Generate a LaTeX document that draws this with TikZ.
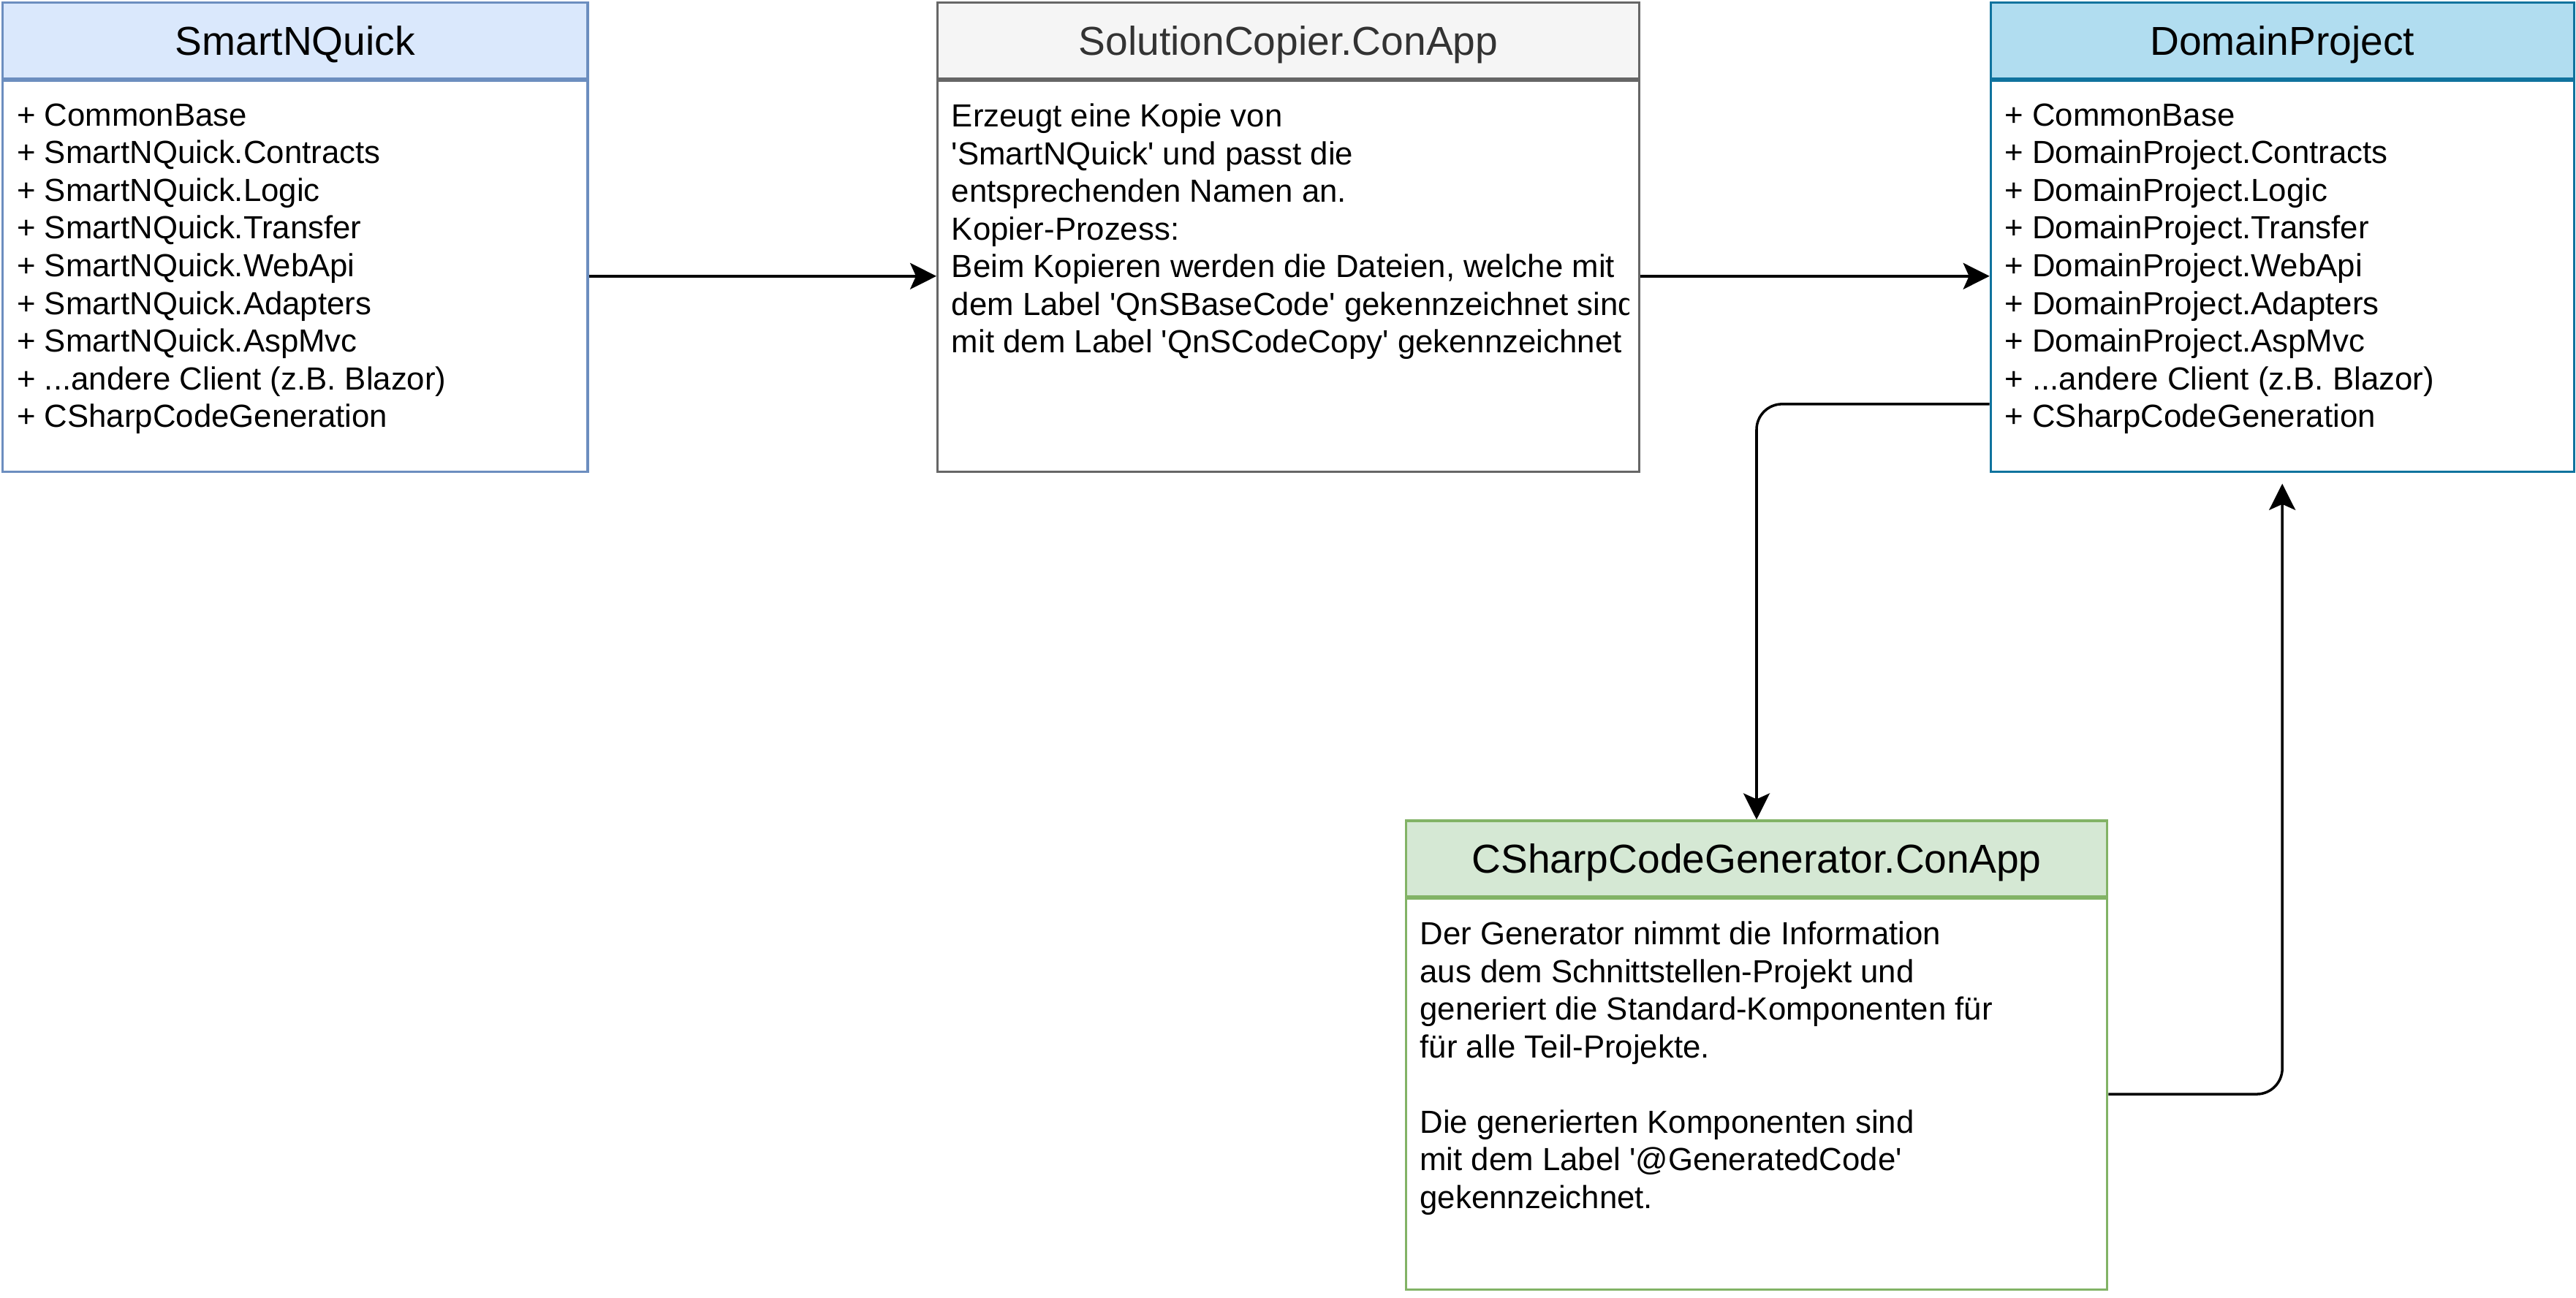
\documentclass[tikz,border=0pt]{standalone}
\usepackage{fontspec}
\setmainfont{Liberation Sans}
\usetikzlibrary{positioning,arrows.meta}

\definecolor{snqfill}{HTML}{DAE8FC}
\definecolor{snqline}{HTML}{6C8EBF}
\definecolor{scfill}{HTML}{F5F5F5}
\definecolor{scline}{HTML}{666666}
\definecolor{sctext}{HTML}{333333}
\definecolor{dpfill}{HTML}{B1DDF0}
\definecolor{dpline}{HTML}{10739E}
\definecolor{cgfill}{HTML}{D5E8D4}
\definecolor{cgline}{HTML}{82B366}

\def\pxu{0.22474mm}

\begin{document}
\begin{tikzpicture}[x=\pxu, y=-\pxu,
    head/.style={draw, line width=0.9pt, minimum height=46*\pxu, inner sep=0pt, anchor=north west,
        font=\fontsize{15.7pt}{18pt}\selectfont, text height=11.25pt, text depth=0pt},
    body/.style={draw, line width=0.9pt, fill=white, minimum height=238*\pxu, inner sep=0pt, below=0pt of #1},
    info/.style={anchor=north west, align=left, inner sep=0pt, font=\fontsize{12.45pt}{14.66pt}\selectfont,
        execute at begin node={\rule{0pt}{11pt}}},
    conn/.style={line width=1pt, -{Stealth[length=3.6mm, width=3.6mm, inset=0.8mm]}, rounded corners=3.5mm}]

    \useasboundingbox (0,0) rectangle (1568,790);

    \node[head, fill=snqfill, draw=snqline, minimum width=356*\pxu] (snqHead) at (1,1) {SmartNQuick};
    \node[body=snqHead, draw=snqline, minimum width=356*\pxu] (snqBody) {};
    \node[info] (snqText) at (10,62.8) {+ CommonBase\\+ SmartNQuick.Contracts\\+ SmartNQuick.Logic\\
        + SmartNQuick.Transfer\\+ SmartNQuick.WebApi\\+ SmartNQuick.Adapters\\+ SmartNQuick.AspMvc\\
        + ...andere Client (z.B. Blazor)\\+ CSharpCodeGeneration};

    \node[head, fill=scfill, draw=scline, text=sctext, minimum width=427*\pxu] (scHead) at (570,1) {SolutionCopier.ConApp};
    \node[body=scHead, draw=scline, minimum width=427*\pxu] (scBody) {};
    \begin{scope}
        \clip (scBody.north west) rectangle ([xshift=-7*\pxu]scBody.south east);
        \node[info] (scText) at (579,62.8) {Erzeugt eine Kopie von\\\textquotesingle SmartNQuick\textquotesingle{} und passt die\\
            entsprechenden Namen an.\\Kopier-Prozess:\\Beim Kopieren werden die Dateien, welche mit\\
            dem Label \textquotesingle QnSBaseCode\textquotesingle{} gekennzeichnet sind\\
            mit dem Label \textquotesingle QnSCodeCopy\textquotesingle{} gekennzeichnet};
    \end{scope}

    \node[head, fill=dpfill, draw=dpline, minimum width=355*\pxu] (dpHead) at (1211,1) {DomainProject};
    \node[body=dpHead, draw=dpline, minimum width=355*\pxu] (dpBody) {};
    \node[info] (dpText) at (1220,62.8) {+ CommonBase\\+ DomainProject.Contracts\\+ DomainProject.Logic\\
        + DomainProject.Transfer\\+ DomainProject.WebApi\\+ DomainProject.Adapters\\+ DomainProject.AspMvc\\
        + ...andere Client (z.B. Blazor)\\+ CSharpCodeGeneration};

    \node[head, fill=cgfill, draw=cgline, minimum width=427*\pxu] (cgHead) at (855,499) {CSharpCodeGenerator.ConApp};
    \node[body=cgHead, draw=cgline, minimum width=427*\pxu] (cgBody) {};
    \node[info] (cgText) at (864,560.8) {Der Generator nimmt die Information\\aus dem Schnittstellen-Projekt und\\
        generiert die Standard-Komponenten für\\für alle Teil-Projekte.\\[14.66pt]
        Die generierten Komponenten sind\\mit dem Label \textquotesingle @GeneratedCode\textquotesingle\\gekennzeichnet.};

    \coordinate (dpOut) at (1211,246);
    \draw[conn] (snqBody.east) -- (scBody.west);
    \draw[conn] (scBody.east) -- (dpBody.west);
    \draw[conn] (dpOut) -| (cgHead.north);
    \draw[conn, shorten >=1.5mm] (cgBody.east) -| (dpBody.south);

\end{tikzpicture}
\end{document}
